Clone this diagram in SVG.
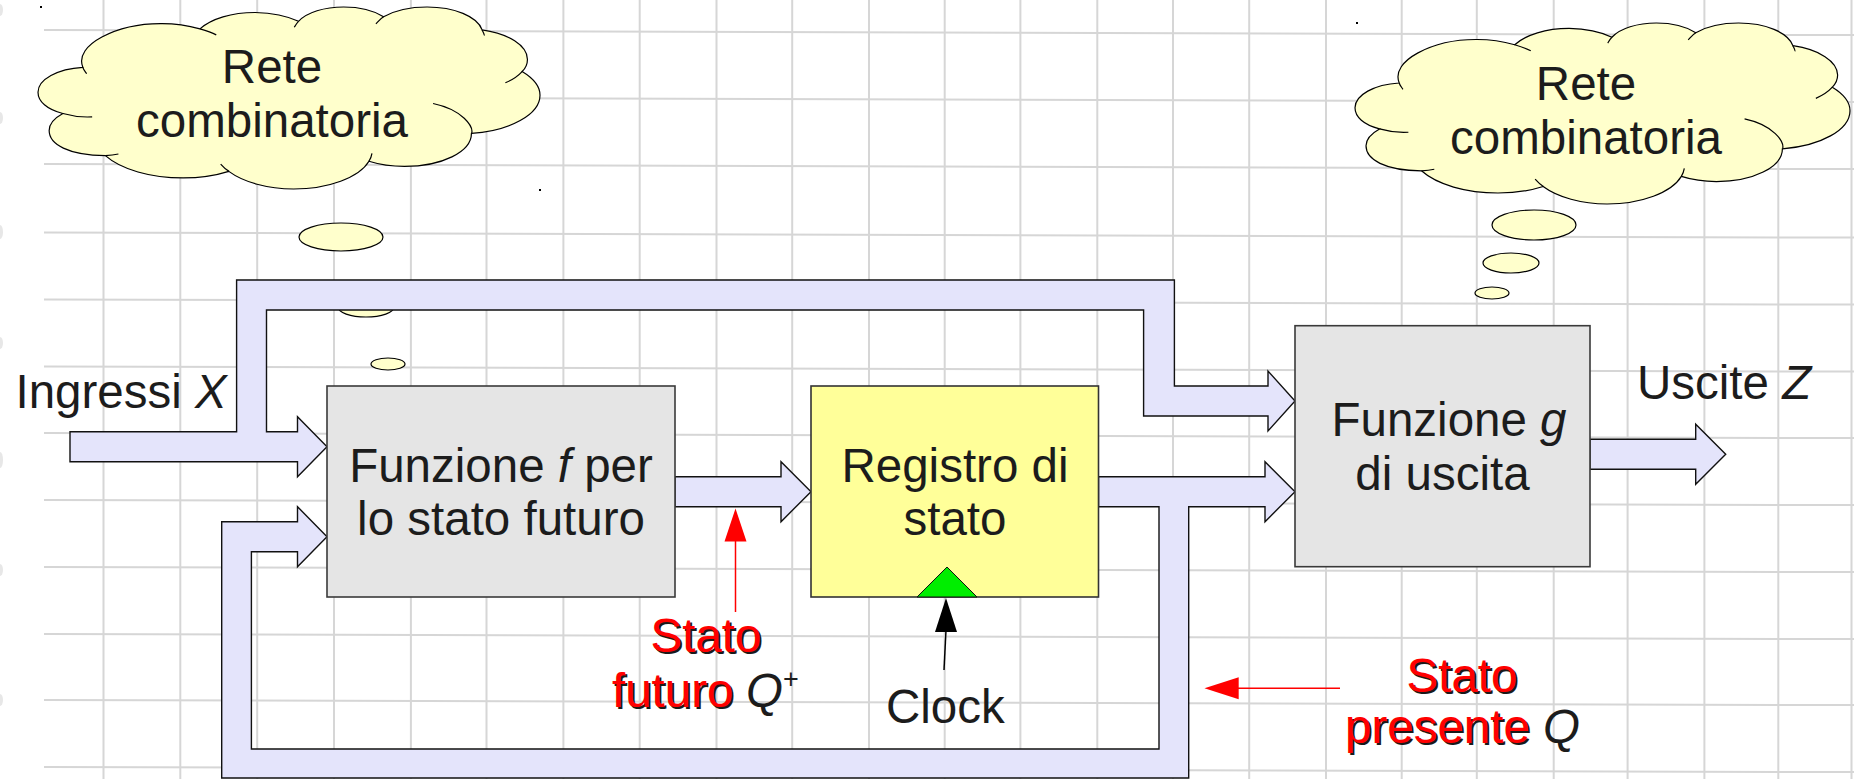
<svg xmlns="http://www.w3.org/2000/svg" xmlns:xlink="http://www.w3.org/1999/xlink" width="1854" height="779" viewBox="0 0 1854 779">
  <style>
    .grid { stroke: #d6d6d6; stroke-width: 2; fill: none; }
    .blob { fill: #d0d0d0; }
    .cloud { fill: #ffffcc; stroke: #000; stroke-width: 1.2; }
    .tail { fill: none; stroke: #000; stroke-width: 1.2; }
    .bus { fill: #e4e4fb; stroke: #111; stroke-width: 1.4; stroke-linejoin: miter; }
    .gray { fill: #e5e5e5; stroke: #3a3a3a; stroke-width: 1.6; }
    .reg { fill: #ffff99; stroke: #333; stroke-width: 1.6; }
    .txt { font-family: "Liberation Sans", Arial, sans-serif; font-size: 47.5px; fill: #1c1c1c; }
    .mid { text-anchor: middle; }
    .red { fill: #ff0000; }
    .shadow { fill: #1a1a1a; }
    .it { font-style: italic; }
    .redline { stroke: #ff0000; stroke-width: 1.5; fill: none; }
  </style>
  <defs>
    <!-- cloud outline in a 21600 x 21600 frame -->
    <path id="cloudShape" vector-effect="non-scaling-stroke" d="M1930,7160 C1530,4490 3400,1970 5270,1970 C5860,1950 6470,2210 6970,2600 C7450,1390 8340,650 9340,650 C10004,690 10710,1050 11210,1700 C11570,630 12330,0 13150,0 C13840,0 14470,460 14870,1160 C15330,440 16020,0 16740,0 C17910,0 18900,1130 19110,2710 C20240,3150 21060,4580 21060,6220 C21060,6720 21000,7200 20830,7660 C21310,8460 21600,9450 21600,10460 C21600,12750 20310,14680 18650,15010 C18650,17200 17370,18920 15770,18920 C15220,18920 14700,18710 14240,18310 C13820,20240 12490,21600 11000,21600 C9890,21600 8840,20790 8210,19510 C7650,20000 6950,20290 6240,20290 C4850,20290 3570,19280 2900,17640 C1300,17600 480,16300 480,14660 C480,13900 690,13210 1070,12640 C380,12160 0,11210 0,10120 C0,8590 840,7330 1930,7160 Z"/>
    <!-- inner bump tails -->
    <path id="cloudTails" vector-effect="non-scaling-stroke" d="M1930,7160 C1950,7410 2040,7690 2090,7920 M6970,2600 C7200,2790 7480,3050 7670,3310 M11210,1700 C11130,1910 11080,2160 11030,2400 M14870,1160 C14720,1400 14640,1720 14540,2010 M19110,2710 C19130,2890 19230,3290 19190,3380 M20830,7660 C20660,8170 20430,8620 20110,8990 M18660,15010 C18740,14200 18280,12200 17000,11450 M14240,18310 C14320,17980 14350,17680 14370,17360 M8220,19510 C8060,19250 7960,18950 7860,18640 M2900,17640 C3090,17600 3280,17540 3460,17450 M1070,12640 C1400,12900 1780,13130 2330,13040"/>
  </defs>

  <!-- squared paper -->
  <rect x="0" y="0" width="1854" height="779" fill="#ffffff"/>
  <g id="paper">
    <path class="grid" d="M103.5,0V779 M180.3,0V779 M257.2,0V779 M334,0V779 M410.9,0V779 M486.5,0V779 M563.4,0V779 M639.7,0V779 M716.5,0V779 M792.2,0V779 M869,0V779 M944.7,0V779 M1020.4,0V779 M1097.3,0V779 M1173,0V779 M1249.2,0V779 M1326,0V779 M1401.7,0V779 M1476.8,0V779 M1553.7,0V779 M1627.6,0V779 M1704.4,0V779 M1778.3,0V779 M1851.5,0V779"/>
    <path class="grid" d="M44,30L1854,35.1 M44,97L1854,102.1 M44,164L1854,169.1 M44,232.5L1854,237.6 M44,299.5L1854,304.6 M44,366.5L1854,371.6 M44,433L1854,438.1 M44,500L1854,505.1 M44,567L1854,572.1 M44,634L1854,639.1 M44,700L1854,705.1 M44,767L1854,772.1"/>
    <g class="blob" opacity="0.5">
      <ellipse cx="0" cy="10" rx="3" ry="6"/>
      <ellipse cx="0" cy="118" rx="3" ry="6"/>
      <ellipse cx="0" cy="232" rx="3" ry="7"/>
      <ellipse cx="0" cy="343" rx="3" ry="6"/>
      <ellipse cx="0" cy="460" rx="3" ry="8"/>
      <ellipse cx="0" cy="570" rx="3" ry="6"/>
      <ellipse cx="0" cy="700" rx="3" ry="6"/>
    </g>
    <rect x="40" y="6" width="2" height="2" fill="#000"/>
    <rect x="539" y="189" width="2" height="2" fill="#000"/>
    <rect x="1356" y="22" width="2" height="2" fill="#000"/>
  </g>

  <!-- thought clouds -->
  <g id="cloud-f">
    <use href="#cloudShape" class="cloud" transform="translate(38,7) scale(0.0232407,0.0084259)"/>
    <use href="#cloudTails" class="tail" transform="translate(38,7) scale(0.0232407,0.0084259)"/>
    <ellipse class="cloud" cx="341" cy="237" rx="42" ry="14"/>
    <ellipse class="cloud" cx="366" cy="307" rx="28" ry="10"/>
    <ellipse class="cloud" cx="388" cy="364" rx="17" ry="6"/>
    <text class="txt mid" x="272" y="83">Rete</text>
    <text class="txt mid" x="272" y="137">combinatoria</text>
  </g>
  <g id="cloud-g">
    <use href="#cloudShape" class="cloud" transform="translate(1355,23) scale(0.0229167,0.0083796)"/>
    <use href="#cloudTails" class="tail" transform="translate(1355,23) scale(0.0229167,0.0083796)"/>
    <ellipse class="cloud" cx="1534" cy="225" rx="42" ry="15"/>
    <ellipse class="cloud" cx="1511" cy="263" rx="28" ry="10"/>
    <ellipse class="cloud" cx="1492" cy="293" rx="17" ry="6"/>
    <text class="txt mid" x="1586" y="100">Rete</text>
    <text class="txt mid" x="1586" y="154">combinatoria</text>
  </g>

  <!-- buses and block arrows -->
  <g id="connectors">
    <!-- inputs X: to f and, over the top, to g -->
    <polygon class="bus" points="70,431.7 236.6,431.7 236.6,280 1174.4,280 1174.4,386 1268,386 1268,371 1295,401 1268,431 1268,416 1143.6,416 1143.6,310 266.5,310 266.5,431.7 297.5,431.7 297.5,416.7 327,446.7 297.5,476.7 297.5,461.7 70,461.7"/>
    <!-- present state: to g and back to f -->
    <polygon class="bus" points="1098.5,476.7 1265,476.7 1265,461.7 1295,491.7 1265,521.7 1265,506.7 1188.7,506.7 1188.7,778 221.7,778 221.7,521.7 297.5,521.7 297.5,506.7 327,536.7 297.5,566.7 297.5,551.7 251.4,551.7 251.4,749 1159,749 1159,506.7 1098.5,506.7"/>
    <!-- next state: f to register -->
    <polygon class="bus" points="675,476.7 781,476.7 781,461.7 811,491.7 781,521.7 781,506.7 675,506.7"/>
    <!-- outputs Z -->
    <polygon class="bus" points="1590,439.3 1695.7,439.3 1695.7,424.3 1725.7,454.3 1695.7,484.3 1695.7,469.3 1590,469.3"/>
    <!-- clock -->
    <line x1="944" y1="670" x2="946" y2="630" stroke="#000" stroke-width="1.5"/>
    <polygon points="946,598 957,632 935,632" fill="#000"/>
    <!-- state pointers -->
    <line class="redline" x1="735.5" y1="612" x2="735.5" y2="540"/>
    <polygon points="735.5,508.5 746.5,541.5 724.5,541.5" fill="#ff0000"/>
    <line class="redline" x1="1340" y1="688.3" x2="1238" y2="688.3"/>
    <polygon points="1204.5,688.3 1238.7,677.3 1238.7,699.3" fill="#ff0000"/>
  </g>

  <g id="node-f">
    <rect class="gray" x="327" y="386" width="348" height="211"/>
    <text class="txt mid" x="501" y="482">Funzione <tspan class="it">f</tspan> per</text>
    <text class="txt mid" x="501" y="535">lo stato futuro</text>
  </g>

  <g id="node-register">
    <rect class="reg" x="811" y="386" width="287.5" height="211"/>
    <text class="txt mid" x="955" y="482">Registro di</text>
    <text class="txt mid" x="955" y="535">stato</text>
    <polygon points="917,597 947,567 977,597" fill="#00ee00" stroke="#111" stroke-width="1"/>
  </g>

  <g id="node-g">
    <rect class="gray" x="1295" y="325.7" width="295" height="241"/>
    <text class="txt mid" x="1449" y="436">Funzione <tspan class="it">g</tspan></text>
    <text class="txt mid" x="1442.5" y="489.5">di uscita</text>
  </g>

  <g id="label-inputs">
    <text class="txt" x="15.5" y="408">Ingressi <tspan class="it">X</tspan></text>
  </g>
  <g id="label-outputs">
    <text class="txt" x="1637" y="399">Uscite <tspan class="it">Z</tspan></text>
  </g>
  <g id="label-clock">
    <text class="txt" x="886" y="723.3">Clock</text>
  </g>

  <g id="label-next-state">
    <text class="txt mid shadow" x="708" y="653.5">Stato</text>
    <text class="txt mid red" x="706" y="651.7">Stato</text>
    <text class="txt shadow" x="614" y="708.5">futuro</text>
    <text class="txt red" x="612" y="706.7">futuro</text>
    <text class="txt" x="746" y="706.7"><tspan class="it">Q</tspan><tspan font-size="27" dy="-19">+</tspan></text>
  </g>

  <g id="label-present-state">
    <text class="txt mid shadow" x="1464" y="693.5">Stato</text>
    <text class="txt mid red" x="1462" y="691.7">Stato</text>
    <text class="txt shadow" x="1347" y="745.1">presente</text>
    <text class="txt red" x="1345" y="743.3">presente</text>
    <text class="txt it" x="1543" y="743.3">Q</text>
  </g>
</svg>
